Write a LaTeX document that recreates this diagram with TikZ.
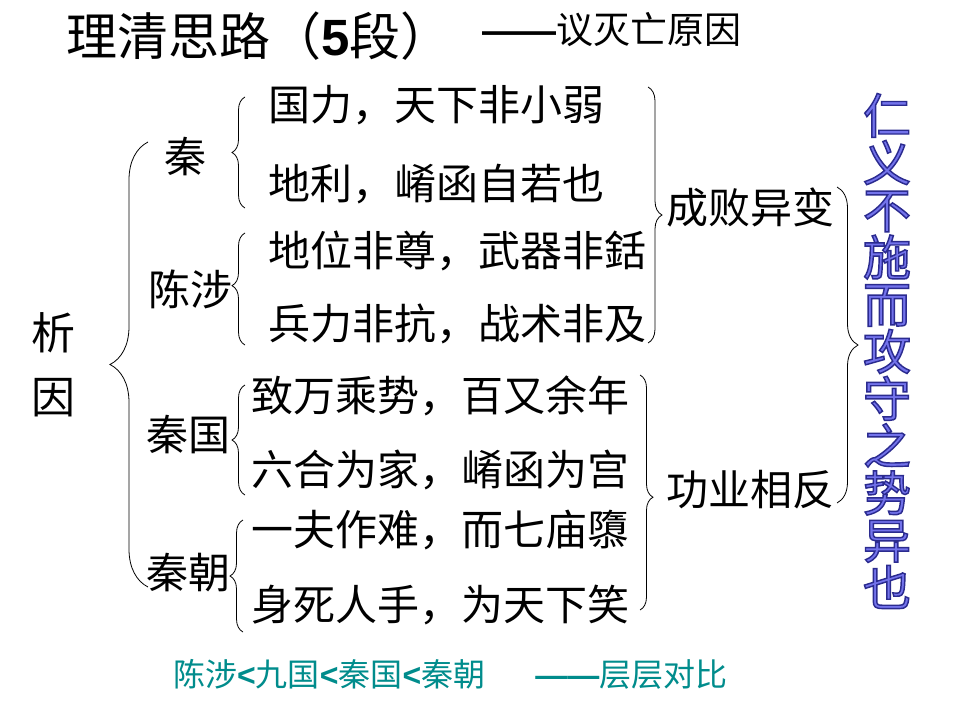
\documentclass[tikz,border=0pt]{standalone}
\usepackage{fontspec}
\setmainfont{Noto Sans CJK SC}
\newfontfamily\arf{Liberation Sans}
\newfontfamily\wafont{Noto Sans CJK SC}[FakeBold=3]
\usetikzlibrary{decorations.pathreplacing}
\definecolor{tealtx}{RGB}{0,140,140}
\definecolor{wablue}{RGB}{95,95,215}
\newcommand{\wordart}[1]{\special{pdf:bcolor [0.45 0.45 0.92] [0.17 0.17 0.56]}#1\special{pdf:ecolor}}
\begin{document}
\begin{tikzpicture}[x=1pt,y=-1pt,
  txt/.style={inner sep=0pt, anchor=west, font=\fontsize{42}{42}\selectfont},
  lbl/.style={inner sep=0pt, font=\fontsize{42}{42}\selectfont},
  vt/.style={inner sep=0pt, align=center},
  brc/.style={decorate, decoration={brace, amplitude=#1}, line width=0.8pt},
  brca/.style 2 args={decorate, decoration={brace, amplitude=#1, aspect=#2}, line width=0.8pt}
]
\useasboundingbox (0,0) rectangle (960,720);
\fill[white] (0,0) rectangle (960,720);

% title
\node[txt, font=\fontsize{51}{51}\selectfont] (title) at (66,36) {理清思路（{\arf\bfseries 5}段）};
\node[txt, font=\fontsize{37}{37}\selectfont] (sub) at (482,30) {{\arf\bfseries ——}议灭亡原因};

% left labels
\node[vt, font=\fontsize{44}{64}\selectfont] (xiyin) at (53,365) {析\\因};
\node[lbl] (qin) at (185,157) {秦};
\node[lbl] (chen) at (190,289) {陈涉};
\node[lbl] (qinguo) at (188,435) {秦国};
\node[lbl] (qinchao) at (188,573) {秦朝};

% lines
\node[txt] (l1) at (268,105) {国力，天下非小弱};
\node[txt] (l2) at (268,184) {地利，崤函自若也};
\node[txt] (l3) at (268,251) {地位非尊，武器非銛};
\node[txt] (l4) at (268,324) {兵力非抗，战术非及};
\node[txt] (l5) at (251,396) {致万乘势，百又余年};
\node[txt] (l6) at (251,470) {六合为家，崤函为宫};
\node[txt] (l7) at (251,530) {一夫作难，而七庙隳};
\node[txt] (l8) at (251,605) {身死人手，为天下笑};

% results
\node[txt] (cb) at (666,207) {成败异变};
\node[txt] (gy) at (666,490) {功业相反};

% vertical word-art text (fill blue, stroke navy)
\node[vt, text=wablue, font=\wafont\fontsize{48}{47.2}\selectfont] (vtx) at (887,351)
  {\wordart{仁\\义\\不\\施\\而\\攻\\守\\之\\势\\异\\也}};

% bottom line
\node[txt, text=tealtx, font=\fontsize{32}{32}\selectfont] (bot) at (173,674)
  {陈涉{\arf\bfseries <}九国{\arf\bfseries <}秦国{\arf\bfseries <}秦朝\hspace{50pt}{\arf\bfseries ——}层层对比};

% brace end points
\coordinate (B0t) at (148,142); \coordinate (B0b) at (148,587);
\coordinate (B1t) at (245,97);  \coordinate (B1b) at (245,208);
\coordinate (B2t) at (245,233); \coordinate (B2b) at (245,345);
\coordinate (B3t) at (245,385); \coordinate (B3b) at (245,495);
\coordinate (B4t) at (243,520); \coordinate (B4b) at (243,632);
\coordinate (R1t) at (648,87);  \coordinate (R1b) at (648,343);
\coordinate (R2t) at (640,375); \coordinate (R2b) at (640,610);
\coordinate (R3t) at (837,187); \coordinate (R3b) at (837,503);

\draw[brc=38] (B0b) -- (B0t);
\draw[brc=13] (B1b) -- (B1t);
\draw[brca={13}{0.53}] (B2b) -- (B2t);
\draw[brc=13] (B3b) -- (B3t);
\draw[brc=13] (B4b) -- (B4t);
\draw[brc=14] (R1t) -- (R1b);
\draw[brca={13}{0.52}] (R2t) -- (R2b);
\draw[brc=21] (R3t) -- (R3b);
\end{tikzpicture}
\end{document}
